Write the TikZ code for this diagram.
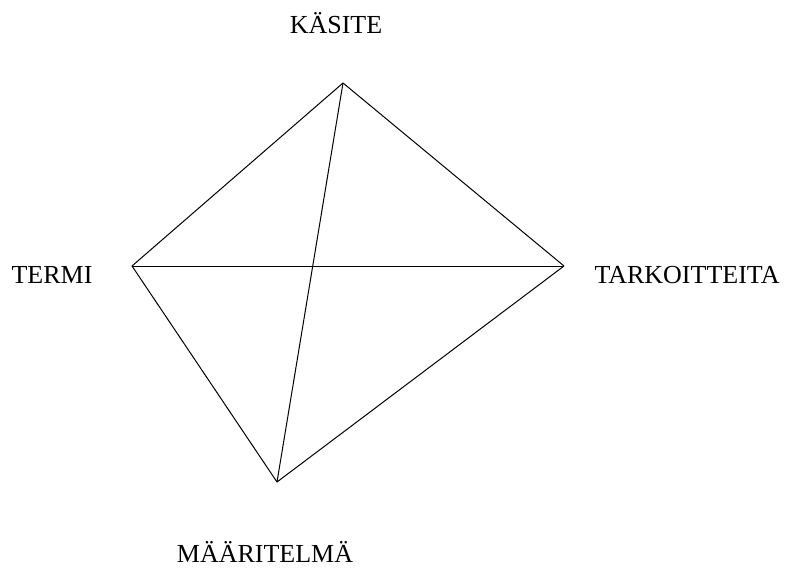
\documentclass[tikz,border=0pt]{standalone}
\usepackage{fontspec}
\setmainfont{Liberation Serif}
\usepackage{tikz}
\usetikzlibrary{positioning}
\tikzset{
  term/.style={font=\fontsize{13}{15.6}\selectfont, inner sep=0pt, anchor=base},
  edge/.style={line width=0.5pt},
}

\begin{document}
\begin{tikzpicture}[x=0.5pt, y=-0.5pt]
    \useasboundingbox (0,0) rectangle (785,567);
    % corners of the square
    \coordinate (kas) at (343,83);
    \coordinate (ter) at (132,266);
    \coordinate (tar) at (564,266);
    \coordinate (maa) at (277,482);
    % labels
    \node[term] (kasl) at (336,34) {KÄSITE};
    \node[term] (terl) at (52,283) {TERMI};
    \node[term] (tarl) at (687,283) {TARKOITTEITA};
    \node[term] (maal) at (265,562) {MÄÄRITELMÄ};
    % edges
    \draw[edge] (kas) -- (ter); \draw[edge] (kas) -- (tar);
    \draw[edge] (ter) -- (tar); \draw[edge] (kas) -- (maa);
    \draw[edge] (ter) -- (maa); \draw[edge] (tar) -- (maa);
  \end{tikzpicture}
\end{document}
